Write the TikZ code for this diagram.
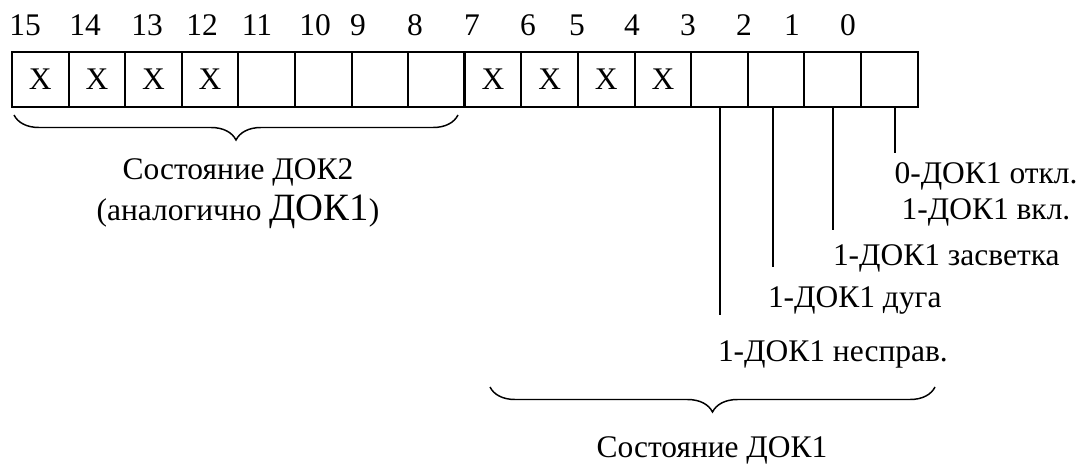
\documentclass[tikz,border=0pt]{standalone}
\usepackage{fontspec}
\setmainfont{Liberation Serif}
\usetikzlibrary{decorations.pathreplacing}
\begin{document}
\begin{tikzpicture}[x=0.75pt,y=-0.75pt,
  cell/.style={draw,line width=1.5pt,minimum width=42.45pt,minimum height=41.25pt,
    inner sep=0pt,outer sep=0pt,font=\fontsize{23.6}{27}\selectfont},
  txt/.style={inner sep=0pt,outer sep=0pt,font=\fontsize{23.6}{27}\selectfont},
  lead/.style={line width=1.2pt},
  bracestyle/.style={line width=1.1pt,decorate,decoration={brace,mirror,amplitude=18.75pt}}]
\useasboundingbox (0,0) rectangle (1087,464);
% cells
\foreach \b in {15,14,13,12,7,6,5,4} {
  \pgfmathsetmacro\cx{12+(15-\b+0.5)*56.6}
  \node[cell] (c\b) at (\cx,79.5) {X};
}
\foreach \b in {11,10,9,8,3,2,1,0} {
  \pgfmathsetmacro\cx{12+(15-\b+0.5)*56.6}
  \node[cell] (c\b) at (\cx,79.5) {};
}
\draw[line width=2.5pt] (c7.north west) -- (c7.south west);
% bit numbers
\foreach \n/\x in {15/25,14/85,13/147,12/202,11/257,10/315,9/358,8/415,7/472,6/528,5/577,4/632,3/688,2/744,1/792,0/848} {
  \node[txt,anchor=base] (n\n) at (\x,35) {\n};
}
% leads
\coordinate (e0) at (895,153);
\coordinate (e1) at (833,230);
\coordinate (e2) at (773,267);
\coordinate (e3) at (720,315);
\foreach \i in {0,1,2,3} { \draw[lead] (c\i.south -| e\i) -- (e\i); }
% labels
\node[txt,anchor=base,align=center] (l0) at (986,219) {0-ДОК1 откл.\\1-ДОК1 вкл.};
\node[txt,anchor=base west] (l1) at (833,265) {1-ДОК1 засветка};
\node[txt,anchor=base west] (l2) at (768,307) {1-ДОК1 дуга};
\node[txt,anchor=base west] (l3) at (718,361) {1-ДОК1 несправ.};
% braces
\coordinate (b2l) at (14,115);
\coordinate (b2r) at (458,115);
\coordinate (b1l) at (490,387);
\coordinate (b1r) at (935,387);
\draw[bracestyle] (b2l) -- (b2r);
\draw[bracestyle] (b1l) -- (b1r);
\node[txt,anchor=base,align=center,font=\fontsize{23.6}{30.75}\selectfont] (dok2) at (238,220)
  {Состояние ДОК2\\(аналогично {\fontsize{29}{30.75}\selectfont ДОК1})};
\node[txt,anchor=base] (dok1) at (712,457) {Состояние ДОК1};
\end{tikzpicture}
\end{document}
